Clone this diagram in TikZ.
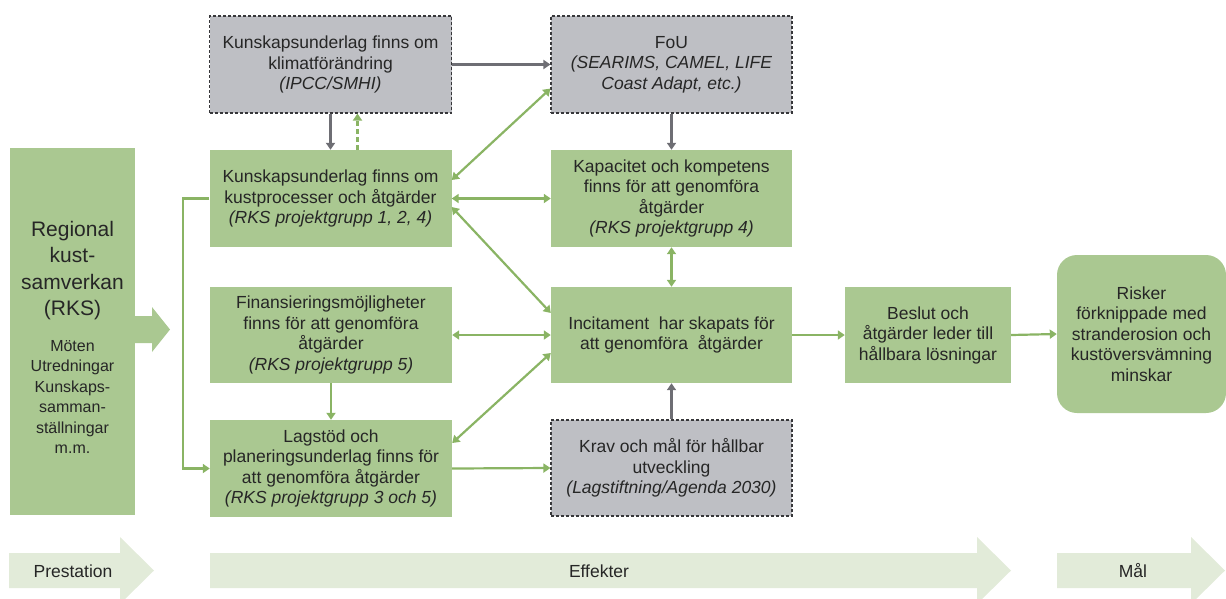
\documentclass[tikz,border=0pt]{standalone}
\usepackage{fontspec}
\setmainfont{Liberation Sans}
\usetikzlibrary{arrows.meta}
\definecolor{boxgreen}{RGB}{170,200,145}
\definecolor{linegreen}{RGB}{138,180,100}
\definecolor{boxgrey}{RGB}{190,191,196}
\definecolor{dashgrey}{RGB}{55,55,58}
\definecolor{arrowgrey}{RGB}{110,110,116}
\definecolor{palegreen}{RGB}{226,235,217}
\definecolor{textgrey}{RGB}{38,38,38}
\begin{document}
\begin{tikzpicture}[x=1pt,y=-1pt,
    box/.style={fill=boxgreen,minimum width=242pt,minimum height=97pt,inner sep=0pt,align=center,text=textgrey},
    greybox/.style={box,fill=boxgrey,draw=dashgrey,dash pattern=on 3pt off 2pt,line width=1.1pt},
    tip/.style={-{Triangle[width=9pt,length=7pt]}},
    link/.style={draw=linegreen,line width=2.2pt,tip},
    twoway/.style={link,{Triangle[width=9pt,length=7pt]}-{Triangle[width=9pt,length=7pt]}},
    greylink/.style={draw=arrowgrey,line width=2.2pt,tip},
    phase/.style={fill=palegreen},
    phaselabel/.style={text=textgrey,inner sep=0pt}]
                    \useasboundingbox (0,0) rectangle (1226,598);
                    {\fontsize{17.5}{20.5}\selectfont

                    % Drawing phase arrows
                    \fill [phase] (9,553) -- (120,553) -- (120,537) -- (154,570.5) -- (120,604) -- (120,588) -- (9,588) -- cycle;%
                    \fill [phase] (210,553) -- (977,553) -- (977,537) -- (1011,570.5) -- (977,604) -- (977,588) -- (210,588) -- cycle;%
                    \fill [phase] (1057,553) -- (1191,553) -- (1191,537) -- (1225,570.5) -- (1191,604) -- (1191,588) -- (1057,588) -- cycle;%
                    \node [phaselabel] (prestation) at (73,571) {Prestation};%
                    \node [phaselabel] (effekter) at (599,571) {Effekter};%
                    \node [phaselabel] (mal) at (1133,571) {Mål};%

                    % Marking box RKS
                    \node [box,minimum width=125pt,minimum height=367pt,text width=122pt] (rks) at (72.5,331.5)
                      {\fontsize{21}{26.5}\selectfont \rule{0pt}{27pt}Regional\\kust-\\samverkan\\(RKS)\\[15pt]
                       \fontsize{16}{20.5}\selectfont Möten\\Utredningar\\Kunskaps-\\samman-\\ställningar\\m.m.};%

                    % Drawing block arrow RKS
                    \fill [boxgreen] (135,316) -- (152,316) -- (152,307) -- (170,329.5) -- (152,352) -- (152,343) -- (135,343) -- cycle;%

                    % Marking grey boxes
                    \node [greybox] (klimat) at (330.5,64.5) {Kunskapsunderlag finns om\\klimatförändring\\\textit{(IPCC/SMHI)}};%
                    \node [greybox,minimum width=241pt] (fou) at (671.5,64.5) {FoU\\\textit{(SEARIMS, CAMEL, LIFE}\\\textit{Coast Adapt, etc.)}};%
                    \node [greybox,minimum width=241pt,minimum height=96pt] (krav) at (671.5,468) {Krav och mål för hållbar\\utveckling\\\textit{(Lagstiftning/Agenda 2030)}};%

                    % Marking green boxes
                    \node [box] (kust) at (330.5,198.5) {Kunskapsunderlag finns om\\kustprocesser och åtgärder\\\textit{(RKS projektgrupp 1, 2, 4)}};%
                    \node [box,minimum width=241pt] (kapacitet) at (671.5,198.5) {Kapacitet och kompetens\\finns för att genomföra\\åtgärder\\\textit{(RKS projektgrupp 4)}};%
                    \node [box,minimum height=96pt] (finans) at (331,335) {Finansieringsmöjligheter\\finns för att genomföra\\åtgärder\\\textit{(RKS projektgrupp 5)}};%
                    \node [box] (lagstod) at (331,468.5) {Lagstöd och\\planeringsunderlag finns för\\att genomföra åtgärder\\\textit{(RKS projektgrupp 3 och 5)}};%
                    \node [box,minimum width=241pt,minimum height=96pt] (incitament) at (671.5,335) {Incitament\ \ har skapats för\\att genomföra\ \ åtgärder};%
                    \node [box,minimum width=166pt,minimum height=96pt] (beslut) at (928,335) {Beslut och\\åtgärder leder till\\hållbara lösningar};%
                    \node [box,minimum width=169pt,minimum height=158pt,rounded corners=20pt] (risker) at (1141.5,334) {Risker\\förknippade med\\stranderosion och\\kustöversvämning\\minskar};%

                    % Drawing grey arrows
                    \draw [greylink] (klimat.east) -- (fou.west);%
                    \draw [greylink] (klimat.south) -- (kust.north);%
                    \draw [greylink] (fou.south) -- (kapacitet.north);%
                    \draw [greylink] (krav.north) -- (incitament.south);%

                    % Drawing dashed arrow kust klimat
                    \draw [link,dash pattern=on 5pt off 3pt] ([xshift=27pt]kust.north) -- ([xshift=27pt]klimat.south);%

                    % Drawing two-way arrows
                    \draw [twoway] ([yshift=18.5pt]kust.east) -- ([yshift=25pt]fou.south west);%
                    \draw [twoway] (kust.east) -- (kapacitet.west);%
                    \draw [twoway] ([yshift=-8.5pt]kust.east) -- ([yshift=22pt]incitament.west);%
                    \draw [twoway] (kapacitet.south) -- (incitament.north);%
                    \draw [twoway] (finans.east) -- (incitament.west);%
                    \draw [twoway] ([yshift=25.5pt]lagstod.east) -- ([yshift=-18pt]incitament.west);%

                    % Drawing one-way arrows
                    \draw [link] (finans.south) -- (lagstod.north);%
                    \draw [link] (lagstod.east) -- (krav.west);%
                    \draw [link] (kust.west) -- ++(-26,0) |- (lagstod.west);%
                    \draw [link] (incitament.east) -- (beslut.west);%
                    \draw [link] (beslut.east) -- (risker.west);%
                    }
\end{tikzpicture}
\end{document}
